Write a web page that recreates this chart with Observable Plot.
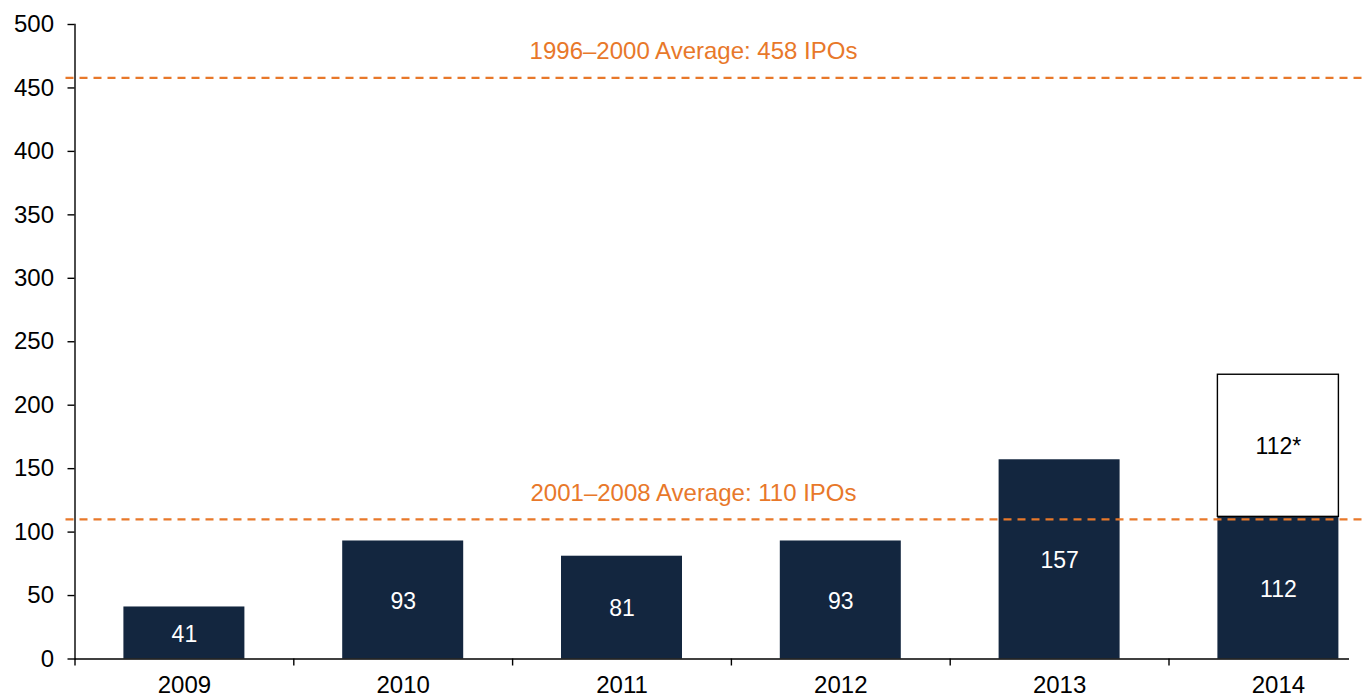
<!DOCTYPE html>
<html>
<head>
<meta charset="utf-8">
<script src="https://cdn.jsdelivr.net/npm/d3@7"></script>
<script src="https://cdn.jsdelivr.net/npm/@observablehq/plot@0.6"></script>
<style>
  html, body { margin: 0; padding: 0; background: #fff; overflow: hidden; }
  #chart svg { display: block; }
</style>
</head>
<body>
<div id="chart"></div>
<script>
// ---- data ----
const years = ["2009", "2010", "2011", "2012", "2013", "2014"];
const ipos = [41, 93, 81, 93, 157, 112];
const pending = [0, 0, 0, 0, 0, 112];
const pendingLabels = ["", "", "", "", "", "112*"];
const averages = [458, 110];
const averageLabels = ["1996–2000 Average: 458 IPOs", "2001–2008 Average: 110 IPOs"];
const yTicks = [0, 50, 100, 150, 200, 250, 300, 350, 400, 450, 500];

// ---- build table ----
const rows = years.map((y, i) => ({year: y, ipos: ipos[i], pending: pending[i], pendingLabel: pendingLabels[i]}));
const pendRows = rows.filter(d => d.pending > 0);
const avgRows = averages.map((v, i) => ({value: v, label: averageLabels[i]}));

const navy = "#13263f";
const orange = "#e8782a";
const font = "'Liberation Sans', Arial, Helvetica, sans-serif";

const x0 = 74.5, x1 = 1387.3;
const step = (x1 - x0) / years.length;

const chart = Plot.plot({
  width: 1366,
  height: 698,
  marginLeft: x0,
  marginRight: 0,
  marginTop: 24,
  marginBottom: 39.5,
  style: {fontFamily: font, background: "#fff", overflow: "hidden"},
  x: {type: "band", domain: years, range: [x0, x1], round: false, paddingInner: 0.447, paddingOuter: 0.2235, axis: null},
  y: {domain: [0, 500], axis: null},
  marks: [
    Plot.barY(rows, {x: "year", y: "ipos", fill: navy}),
    Plot.barY(pendRows, {x: "year", y1: "ipos", y2: d => d.ipos + d.pending, fill: "#fff", stroke: "#000", strokeWidth: 1.4}),
    Plot.text(rows, {x: "year", y: d => d.ipos / 2, text: d => String(d.ipos), fill: "#fff", fontSize: 23, dy: 1.5}),
    Plot.text(pendRows, {x: "year", y: d => d.ipos + d.pending / 2, text: "pendingLabel", fill: "#000", fontSize: 23, dy: 1}),
    Plot.ruleY(avgRows, {y: "value", stroke: orange, strokeWidth: 2.2, strokeDasharray: "8,6", insetLeft: -9}),
    Plot.text(avgRows, {x: () => "2011", y: "value", text: "label", fill: orange, fontSize: 24, dx: 71.5, dy: -26.5}),
    // axes
    Plot.frame({anchor: "left", stroke: "#000", strokeWidth: 1.4}),
    Plot.ruleY([0], {stroke: "#000", strokeWidth: 1.4, insetRight: 17}),
    Plot.ruleX(years, {x: d => d, y1: 0, y2: 0, insetTop: 0, insetBottom: -7, dx: -step / 2, stroke: "#000", strokeWidth: 1.4}),
    Plot.axisY({ticks: yTicks, tickSize: 7, tickPadding: 14, fontSize: 24, label: null, stroke: "#000", strokeWidth: 1.4, strokeOpacity: 1, fill: "#000"}),
    Plot.axisX({tickSize: 0, tickPadding: 17, fontSize: 24, label: null, fill: "#000"})
  ]
});
document.getElementById("chart").appendChild(chart);
</script>
</body>
</html>
